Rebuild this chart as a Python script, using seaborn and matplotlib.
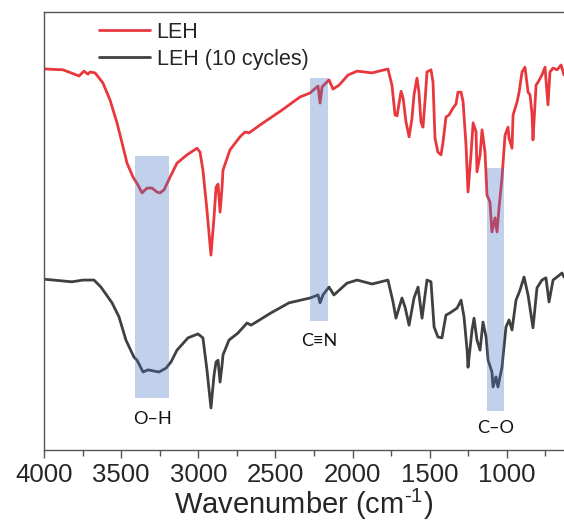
import numpy as np
import pandas as pd
import matplotlib
matplotlib.use("Agg")
import matplotlib.pyplot as plt
import seaborn as sns
from matplotlib.patches import Rectangle

# ---------------- data ----------------
series_names = ["LEH", "LEH (10 cycles)"]
series_colors = ["#E8383D", "#404040"]

leh_wn = [4000, 3877, 3773, 3741, 3715, 3702, 3669, 3618, 3572, 3527, 3494, 3462, 3423, 3391,
          3365, 3332, 3300, 3268, 3248, 3222, 3183, 3138, 3073, 3008, 2989, 2970, 2944, 2918,
          2898, 2885, 2872, 2859, 2846, 2840, 2795, 2730, 2697, 2671, 2600, 2458, 2341, 2276,
          2224, 2211, 2198, 2153, 2127, 2088, 2030, 1971, 1874, 1771, 1745, 1725, 1712, 1686,
          1673, 1654, 1634, 1615, 1602, 1583, 1570, 1557, 1544, 1531, 1518, 1492, 1479, 1466,
          1447, 1427, 1414, 1395, 1375, 1349, 1330, 1317, 1297, 1284, 1265, 1252, 1233, 1219,
          1200, 1194, 1174, 1161, 1142, 1129, 1110, 1097, 1077, 1064, 1051, 1032, 1012, 993,
          986, 967, 960, 934, 921, 902, 883, 863, 850, 837, 831, 811, 798, 773, 753, 734, 721,
          701, 675, 649, 630]
leh_t = [87.0, 86.8, 85.4, 86.5, 85.8, 86.3, 86.1, 83.8, 79.9, 74.7, 70.1, 65.5, 62.3, 60.5,
         58.7, 59.8, 59.8, 58.9, 58.7, 59.4, 62.3, 65.5, 67.4, 68.9, 68.0, 63.9, 54.8, 44.5,
         53.2, 60.0, 60.7, 54.3, 60.0, 63.9, 68.5, 71.5, 72.6, 72.4, 74.2, 77.6, 80.6, 81.5,
         83.1, 79.2, 82.9, 84.5, 82.4, 83.3, 85.6, 86.5, 86.1, 87.0, 83.3, 76.5, 76.3, 81.9,
         80.4, 74.9, 71.5, 75.8, 81.1, 84.9, 81.7, 74.9, 73.7, 79.5, 86.3, 86.8, 84.0, 71.2,
         68.0, 67.4, 70.3, 76.0, 76.5, 78.1, 79.0, 81.7, 81.7, 79.5, 69.6, 58.9, 67.4, 74.7,
         72.6, 63.5, 67.4, 73.1, 68.0, 58.2, 56.6, 49.8, 53.0, 49.8, 55.3, 62.1, 71.9, 73.7,
         71.2, 68.9, 76.5, 79.5, 81.7, 86.3, 87.4, 81.7, 81.1, 76.5, 70.8, 83.3, 84.0, 85.6,
         87.4, 78.8, 86.3, 87.2, 86.8, 87.9, 85.6]

cyc_wn = [4000, 3819, 3747, 3676, 3631, 3559, 3514, 3469, 3417, 3397, 3358, 3326, 3255, 3209,
          3177, 3138, 3067, 3002, 2970, 2944, 2918, 2898, 2885, 2872, 2859, 2846, 2840, 2801,
          2743, 2684, 2658, 2529, 2412, 2276, 2224, 2211, 2192, 2153, 2121, 2036, 1971, 1874,
          1771, 1738, 1719, 1680, 1660, 1634, 1602, 1576, 1550, 1518, 1492, 1472, 1447, 1421,
          1395, 1369, 1323, 1297, 1278, 1258, 1252, 1226, 1213, 1194, 1174, 1155, 1135, 1122,
          1097, 1090, 1071, 1058, 1032, 1006, 986, 967, 941, 915, 889, 863, 831, 805, 773, 747,
          727, 701, 675, 643, 630]
cyc_t = [39.0, 38.4, 38.8, 38.8, 37.2, 33.6, 30.4, 25.1, 21.2, 20.5, 17.8, 18.3, 17.8, 18.7,
         20.1, 22.8, 25.6, 26.5, 25.6, 18.3, 9.6, 17.1, 20.1, 20.5, 15.5, 19.4, 21.7, 25.1,
         26.7, 29.0, 28.5, 31.3, 33.6, 34.7, 35.4, 33.6, 35.4, 37.2, 35.4, 38.1, 38.8, 37.9,
         38.8, 33.8, 30.1, 34.7, 32.6, 28.5, 34.7, 37.2, 30.1, 38.8, 38.4, 28.1, 25.8, 25.6,
         30.8, 31.3, 32.4, 34.2, 30.4, 22.8, 18.9, 27.4, 30.1, 25.1, 22.8, 29.2, 25.8, 20.5,
         17.8, 14.4, 16.7, 14.4, 18.9, 28.1, 29.7, 27.4, 34.2, 36.5, 39.5, 35.4, 27.9, 37.0,
         38.8, 39.3, 33.8, 38.8, 39.5, 40.4, 39.5]

band_labels = ["O\u2013H", "C\u2261N", "C\u2013O"]
band_lo = [3190, 2159, 1019]
band_hi = [3410, 2276, 1129]
band_bottom = [11.9, 29.5, 8.9]
band_top = [67.1, 84.9, 64.4]
band_label_y = [7.1, 24.9, 5.0]

xticks_major = [4000, 3500, 3000, 2500, 2000, 1500, 1000]
xticks_minor = [3750, 3250, 2750, 2250, 1750, 1250, 750]

# ---------------- frame ----------------
df = pd.concat([
    pd.DataFrame({"wn": leh_wn, "T": leh_t, "sample": series_names[0]}),
    pd.DataFrame({"wn": cyc_wn, "T": cyc_t, "sample": series_names[1]}),
], ignore_index=True)

sns.set_theme(style="white")
plt.rcParams["font.family"] = ["Liberation Sans", "DejaVu Sans"]
plt.rcParams["mathtext.fontset"] = "custom"
plt.rcParams["mathtext.rm"] = "Liberation Sans"

fig = plt.figure(figsize=(5.64, 5.31), dpi=100)
ax = fig.add_axes([44 / 564, 1 - 450 / 531, 1 - 44 / 564, 438 / 531])

sns.lineplot(data=df, x="wn", y="T", hue="sample", hue_order=series_names,
             palette=series_colors, linewidth=2.0, ax=ax, sort=False,
             estimator=None)

for lo, hi, b, t, lab, ly in zip(band_lo, band_hi, band_bottom, band_top, band_labels, band_label_y):
    ax.add_patch(Rectangle((lo, b), hi - lo, t - b, facecolor="#4472C4", alpha=0.33,
                           edgecolor="none", zorder=5))
    ax.text((lo + hi) / 2, ly, lab, ha="center", va="center", fontsize=13,
            family=["Lato", "DejaVu Sans"], color="#111111")

ax.set_xlim(4000, 630)
ax.set_ylim(0, 100)
ax.set_xticks(xticks_major)
ax.set_xticks(xticks_minor, minor=True)
ax.set_yticks([])
ax.set_xlabel("Wavenumber (cm$^{\\mathrm{\\text{-}1}}$)", fontsize=21, labelpad=0)
ax.set_ylabel("")
ax.tick_params(axis="x", which="major", direction="out", length=6, width=1,
               color="#555555", labelsize=18.5, bottom=True, pad=3)
ax.tick_params(axis="x", which="minor", direction="out", length=4, width=1,
               color="#555555", bottom=True)
for side in ["left", "bottom", "top"]:
    ax.spines[side].set_color("#555555")
    ax.spines[side].set_linewidth(1.0)
ax.spines["right"].set_visible(False)

leg = ax.legend(loc="upper left", bbox_to_anchor=(0.076, 1.012), frameon=False,
                fontsize=15.5, handlelength=2.4, handletextpad=0.3,
                labelspacing=0.28, borderaxespad=0.3)
for line in leg.get_lines():
    line.set_linewidth(2.0)

fig.savefig("out.png", dpi=100)
